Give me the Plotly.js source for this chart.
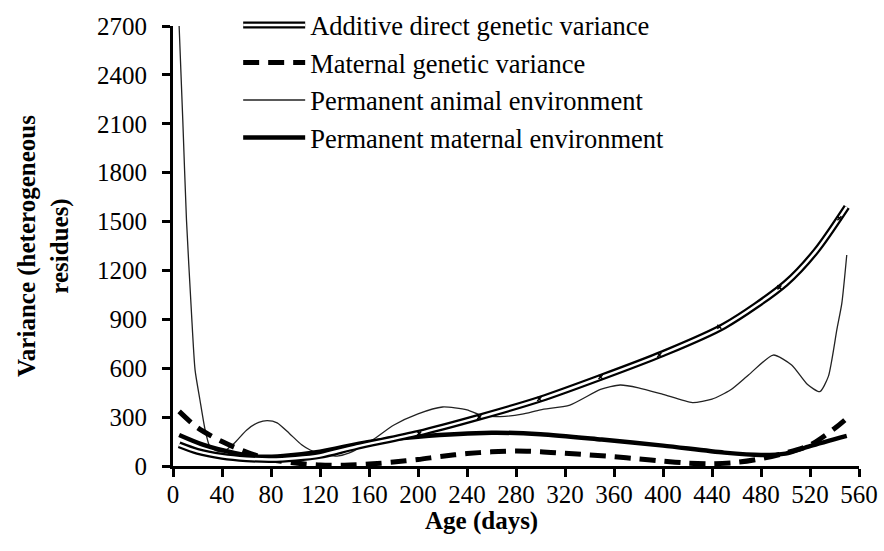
<!DOCTYPE html>
<html>
<head>
<meta charset="utf-8">
<script src="https://cdn.plot.ly/plotly-3.0.1.min.js"></script>
<style>html,body{margin:0;padding:0;background:#fff;}#chart{width:884px;height:551px;}</style>
</head>
<body>
<div id="chart"></div>
<script>
// ---- Data ----
const seriesNames = [
  "Additive direct genetic variance",
  "Maternal genetic variance",
  "Permanent animal environment",
  "Permanent maternal environment"
];

const additiveDays   = [5, 20, 40, 60, 80, 100, 120, 150, 200, 250, 300, 350, 400, 450, 500, 525, 550];
const additiveValues = [130, 90, 60, 45, 40, 48, 65, 120, 200, 300, 411, 546, 690, 860, 1120, 1320, 1590];

const additiveMarkDays   = [201, 250, 299, 349, 397, 446, 495, 544];
const additiveMarkValues = [200, 300, 411, 546, 681, 855, 1096, 1520];

const maternalGenDays   = [5, 20, 40, 60, 80, 100, 120, 140, 160, 180, 200, 220, 240, 260, 280, 300, 320, 340, 360, 380, 400, 420, 440, 460, 480, 500, 520, 540, 550];
const maternalGenValues = [335, 235, 150, 85, 40, 18, 6, 5, 12, 24, 40, 60, 76, 87, 92, 88, 78, 68, 57, 44, 30, 18, 14, 22, 45, 80, 128, 230, 292];

const permAnimalDays   = [5, 8, 11, 15, 18, 22, 26, 30, 35, 41, 50, 60, 70, 77, 85, 95, 105, 112, 120, 134, 144, 163, 180, 200, 220, 240, 252, 267, 285, 300, 324, 349, 365, 380, 400, 424, 440, 455, 470, 490, 505, 518, 528, 535, 542, 546, 550];
const permAnimalValues = [2700, 2120, 1510, 950, 590, 405, 230, 120, 95, 88, 140, 220, 268, 278, 265, 200, 130, 98, 75, 61, 80, 160, 250, 320, 362, 345, 310, 303, 318, 345, 374, 470, 497, 480, 440, 389, 410, 466, 560, 681, 620, 500, 456, 550, 840, 1000, 1295];

const permMaternalDays   = [5, 25, 50, 70, 90, 120, 160, 200, 260, 300, 350, 400, 450, 480, 500, 520, 550];
const permMaternalValues = [190, 129, 80, 57, 62, 88, 148, 180, 204, 195, 162, 125, 82, 68, 76, 122, 185];

const xTicks = [0, 40, 80, 120, 160, 200, 240, 280, 320, 360, 400, 440, 480, 520, 560];
const yTicks = [0, 300, 600, 900, 1200, 1500, 1800, 2100, 2400, 2700];

// ---- Traces ----
const serif = '"Liberation Serif", serif';

const traces = [
  {
    x: permAnimalDays, y: permAnimalValues, name: seriesNames[2],
    mode: "lines", line: {color: "#222", width: 1.3, shape: "spline", smoothing: 0.6},
    legendrank: 3, hoverinfo: "skip"
  },
  {
    x: permMaternalDays, y: permMaternalValues, name: seriesNames[3],
    mode: "lines", line: {color: "#000", width: 4.5, shape: "spline", smoothing: 0.8},
    legendrank: 4, hoverinfo: "skip"
  },
  {
    x: maternalGenDays, y: maternalGenValues, name: seriesNames[1],
    mode: "lines", line: {color: "#000", width: 5, dash: "16px,9px", shape: "spline", smoothing: 0.8},
    legendrank: 2, hoverinfo: "skip"
  },
  {
    x: additiveDays, y: additiveValues, name: seriesNames[0],
    mode: "lines", line: {color: "#000", width: 7, shape: "spline", smoothing: 0.8},
    legendrank: 1, hoverinfo: "skip"
  },
  {
    x: additiveDays, y: additiveValues, name: seriesNames[0],
    mode: "lines", line: {color: "#fff", width: 2.5, shape: "spline", smoothing: 0.8},
    legend: "legend2", hoverinfo: "skip"
  },
  {
    x: additiveMarkDays, y: additiveMarkValues, name: "marks",
    mode: "markers", marker: {symbol: "x-thin", size: 4, line: {color: "#000", width: 1.5}},
    showlegend: false, hoverinfo: "skip"
  }
];

const legendCommon = {
  x: 0.095, y: 0.997, xanchor: "left", yanchor: "top",
  bgcolor: "rgba(0,0,0,0)", borderwidth: 0,
  itemwidth: 62, traceorder: "normal",
  itemclick: false, itemdoubleclick: false
};

const layout = {
  width: 884, height: 551,
  margin: {l: 173, r: 25, t: 0, b: 85},
  paper_bgcolor: "#fff", plot_bgcolor: "#fff",
  font: {family: serif, color: "#000", size: 24},
  showlegend: true,
  legend: Object.assign({}, legendCommon, {font: {family: serif, size: 26.5, color: "#000"}}),
  legend2: Object.assign({}, legendCommon, {font: {family: serif, size: 26.5, color: "rgba(0,0,0,0)"}}),
  xaxis: {
    range: [0, 560], tickvals: xTicks, ticktext: xTicks.map(String),
    showgrid: false, zeroline: false,
    showline: true, linecolor: "#000", linewidth: 3,
    ticks: "outside", ticklen: 8, tickwidth: 3, tickcolor: "#000",
    ticklabelstandoff: -4,
    tickfont: {family: serif, size: 25, color: "#000"},
    fixedrange: true
  },
  yaxis: {
    domain: [0, 0.9442],
    range: [0, 2700], tickvals: yTicks, ticktext: yTicks.map(String),
    showgrid: false, zeroline: false,
    showline: true, linecolor: "#000", linewidth: 3,
    ticks: "outside", ticklen: 8, tickwidth: 3, tickcolor: "#000",
    ticklabelstandoff: 10,
    tickfont: {family: serif, size: 25, color: "#000"},
    title: {text: "<b>Variance (heterogeneous<br>residues)</b>", font: {family: serif, size: 25, color: "#000"}, standoff: 22},
    fixedrange: true
  },
  annotations: [
    {
      text: "<b>Age (days)</b>", xref: "paper", yref: "paper",
      x: 0.449, y: -0.118, xanchor: "center", yanchor: "middle",
      showarrow: false, font: {family: serif, size: 25, color: "#000"}
    }
  ]
};

Plotly.newPlot("chart", traces, layout, {staticPlot: true, displayModeBar: false});
</script>
</body>
</html>
